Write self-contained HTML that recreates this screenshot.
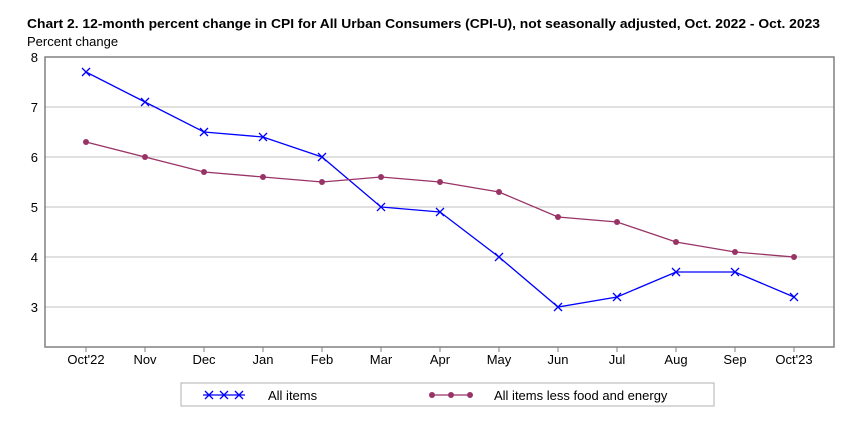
<!DOCTYPE html>
<html><head><meta charset="utf-8"><style>
body{margin:0;background:#fff;font-family:"Liberation Sans",sans-serif;}
svg text{font-family:"Liberation Sans","DejaVu Sans",sans-serif;}
</style></head><body>
<svg id="c" width="862" height="430" xmlns="http://www.w3.org/2000/svg">
<text x="27" y="28" font-size="13" font-weight="bold" fill="#000" textLength="793" lengthAdjust="spacingAndGlyphs">Chart 2. 12-month percent change in CPI for All Urban Consumers (CPI-U), not seasonally adjusted, Oct. 2022 - Oct. 2023</text>
<text x="27" y="46" font-size="13" fill="#000">Percent change</text>
<g id="grid"></g>
<rect x="45" y="57" width="789" height="290" fill="none" stroke="#808080" stroke-width="1.5"/>
<g id="series"></g>
<g>
<rect x="181" y="383" width="533" height="23" fill="#fff" stroke="#b0b0b0"/>
<g>
<line x1="203" y1="395" x2="245" y2="395" stroke="#0000ff" stroke-width="1.3"/>
<path d="M205,391l8,8M213,391l-8,8M220,391l8,8M228,391l-8,8M235,391l8,8M243,391l-8,8" stroke="#0000ff" stroke-width="1.3"/>
<text x="268" y="400" font-size="13">All items</text></g>
<g>
<line x1="430" y1="395" x2="472" y2="395" stroke="#993366" stroke-width="1.3"/>
<circle cx="432" cy="395" r="3" fill="#993366"/><circle cx="451" cy="395" r="3" fill="#993366"/><circle cx="470" cy="395" r="3" fill="#993366"/>
<text x="494" y="400" font-size="13">All items less food and energy</text></g>
</g>
</svg>
<script>
const categories=["Oct'22","Nov","Dec","Jan","Feb","Mar","Apr","May","Jun","Jul","Aug","Sep","Oct'23"];
const allItems=[7.7,7.1,6.5,6.4,6.0,5.0,4.9,4.0,3.0,3.2,3.7,3.7,3.2];
const coreItems=[6.3,6.0,5.7,5.6,5.5,5.6,5.5,5.3,4.8,4.7,4.3,4.1,4.0];
const yTicks=[3,4,5,6,7,8];
const NS="http://www.w3.org/2000/svg";
const yMin=2.2,yMax=8,plotTop=57,plotBot=347;
const xs=i=>86+i*59;
const ys=v=>plotBot-(v-yMin)/(yMax-yMin)*(plotBot-plotTop);
function mk(t,a,p){const e=document.createElementNS(NS,t);for(const k in a)e.setAttribute(k,a[k]);p.appendChild(e);return e;}
const grid=document.getElementById('grid'),ser=document.getElementById('series');
yTicks.forEach(v=>{
 if(v<yMax){const l=mk('line',{x1:45,x2:834,y1:ys(v),y2:ys(v),stroke:'#c0c0c0'},grid);
 
 }
 const t=mk('text',{x:38,y:ys(v)+5,'font-size':13,'text-anchor':'end'},grid);t.textContent=v;
 
 
});
categories.forEach((c,i)=>{
 mk('line',{x1:xs(i),x2:xs(i),y1:plotBot,y2:plotBot+5,stroke:'#808080'},grid);
 const t=mk('text',{x:xs(i),y:plotBot+17,'font-size':13,'text-anchor':'middle'},grid);t.textContent=c;
 
 
});
const p1=mk('polyline',{points:allItems.map((v,i)=>xs(i)+','+ys(v)).join(' '),fill:'none',stroke:'#0000ff','stroke-width':1.3},ser);


allItems.forEach((v,i)=>{const m=mk('path',{d:`M${xs(i)-4},${ys(v)-4}l8,8M${xs(i)+4},${ys(v)-4}l-8,8`,stroke:'#0000ff','stroke-width':1.3},ser);
 
 });
const p2=mk('polyline',{points:coreItems.map((v,i)=>xs(i)+','+ys(v)).join(' '),fill:'none',stroke:'#993366','stroke-width':1.3},ser);


coreItems.forEach((v,i)=>{const m=mk('circle',{cx:xs(i),cy:ys(v),r:3,fill:'#993366'},ser);
 
 });
</script>
</body></html>
